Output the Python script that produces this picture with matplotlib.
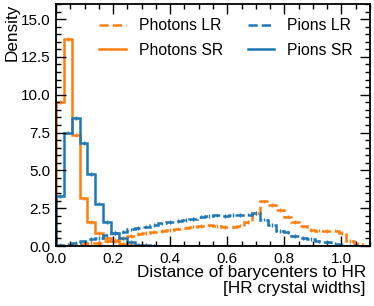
import numpy as np
import matplotlib
matplotlib.use("Agg")
import matplotlib.pyplot as plt
from matplotlib.ticker import MultipleLocator

# bin edges: 40 bins between 0 and 1.1
edges = np.linspace(0.0, 1.1, 41)

# densities
photons_sr = [9.5, 13.7, 7.35, 3.15, 1.6, 0.85, 0.5, 0.3, 0.15, 0.08,
              0.04, 0.02, 0.01] + [0.0] * 27
pions_sr = [3.3, 7.5, 8.45, 6.8, 4.75, 2.8, 1.6, 0.85, 0.5, 0.25,
            0.1, 0.05, 0.02] + [0.0] * 27
photons_lr = [0.02, 0.05, 0.08, 0.12, 0.18, 0.22, 0.3, 0.4, 0.55, 0.65,
              0.78, 0.85, 0.95, 1.0, 1.06, 1.15, 1.22, 1.28, 1.33, 1.36,
              1.33, 1.26, 1.28, 1.35, 1.6, 2.15, 2.95, 2.7, 2.4, 1.95,
              1.6, 1.3, 1.08, 1.02, 1.0, 1.02, 0.85, 0.33, 0.12, 0.0]
pions_lr = [0.05, 0.1, 0.2, 0.3, 0.45, 0.55, 0.7, 0.85, 0.95, 1.1,
            1.18, 1.28, 1.4, 1.5, 1.6, 1.65, 1.7, 1.8, 1.95, 2.0,
            2.02, 2.0, 2.05, 2.06, 2.08, 2.17, 1.75, 1.4, 1.0, 0.9,
            0.65, 0.55, 0.45, 0.3, 0.25, 0.15, 0.08, 0.03, 0.01, 0.0]

orange = "#ff7f0e"
blue = "#1f77b4"

plt.rcParams["font.family"] = ["Liberation Sans", "DejaVu Sans"]
plt.rcParams["font.size"] = 11

fig = plt.figure(figsize=(3.74, 3.06), dpi=100)
ax = fig.add_axes([0.15, 0.196, 0.839, 0.791])

centers = 0.5 * (edges[1:] + edges[:-1])

series = [
    (photons_lr, orange, "--", "Photons LR"),
    (photons_sr, orange, "-", "Photons SR"),
    (pions_lr, blue, "--", "Pions LR"),
    (pions_sr, blue, "-", "Pions SR"),
]
for vals, col, ls, lab in series:
    vals = np.array(vals)
    ax.stairs(vals, edges, color=col, linestyle=ls, linewidth=1.8, label=lab)
    # small statistical error bars
    mask = vals > 0
    ax.errorbar(centers[mask], vals[mask], yerr=0.12, fmt="none",
                ecolor=col, elinewidth=1.0)

ax.set_xlim(0, 1.1)
ax.set_ylim(0, 16)
ax.xaxis.set_major_locator(MultipleLocator(0.2))
ax.xaxis.set_minor_locator(MultipleLocator(0.05))
ax.yaxis.set_major_locator(MultipleLocator(2.5))
ax.yaxis.set_minor_locator(MultipleLocator(0.5))
ax.tick_params(which="both", direction="in", top=True, right=True, width=1.0)
ax.tick_params(which="major", length=7, labelsize=11, pad=4)
ax.tick_params(which="minor", length=3.5)
for sp in ax.spines.values():
    sp.set_linewidth(1.3)

ax.set_xlabel("Distance of barycenters to HR\n[HR crystal widths]",
              ha="right", va="top", fontsize=12.3, linespacing=1.05)
ax.xaxis.set_label_coords(0.987, -0.078)
ax.set_ylabel("Density", ha="right", va="top", fontsize=12.3)
ax.yaxis.set_label_coords(-0.165, 1.0)

ax.legend(ncol=2, frameon=False, loc="upper right", fontsize=11.3,
          handlelength=1.7, columnspacing=1.6, borderaxespad=0.5,
          labelspacing=0.6, bbox_to_anchor=(0.99, 1.0))

fig.savefig("out.png", dpi=100)
